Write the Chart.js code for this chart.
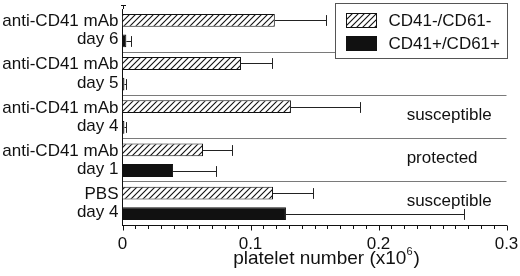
<!DOCTYPE html>
<html>
<head>
<meta charset="utf-8">
<script src="https://cdn.jsdelivr.net/npm/chart.js@4.4.1/dist/chart.umd.min.js"></script>
<style>
  html, body { margin: 0; padding: 0; background: #fff; }
  #wrap { width: 520px; height: 276px; }
</style>
</head>
<body>
<div id="wrap"><canvas id="plateletChart" width="520" height="276"></canvas></div>
<script>
const groupLabels = [
    ['anti-CD41 mAb', 'day 6'],
    ['anti-CD41 mAb', 'day 5'],
    ['anti-CD41 mAb', 'day 4'],
    ['anti-CD41 mAb', 'day 1'],
    ['PBS', 'day 4']
];
const seriesNames = ['CD41-/CD61-', 'CD41+/CD61+'];
const negValues = [0.119, 0.0926, 0.1316, 0.0629, 0.1176];
const negErrors = [0.040, 0.0244, 0.054, 0.0226, 0.0312];
const posValues = [0.003, 0.0015, 0.0015, 0.0395, 0.1277];
const posErrors = [0.0034, 0.0016, 0.001, 0.0335, 0.139];
const outcomeNotes = ['', '', 'susceptible', 'protected', 'susceptible'];
const xTickLabels = ['0', '0.1', '0.2', '0.3'];

const FONT = '"Liberation Sans", Arial, Helvetica, sans-serif';
const INK = '#111';

// diagonal hatch for the CD41-/CD61- bars
function makeHatch() {
    const c = document.createElement('canvas');
    c.width = 6; c.height = 6;
    const g = c.getContext('2d');
    g.fillStyle = '#fff';
    g.fillRect(0, 0, 6, 6);
    g.strokeStyle = INK;
    g.lineWidth = 1.1;
    g.beginPath();
    g.moveTo(-1, 7); g.lineTo(7, -1);
    g.moveTo(-1, 1); g.lineTo(1, -1);
    g.moveTo(5, 7); g.lineTo(7, 5);
    g.stroke();
    return g.createPattern(c, 'repeat');
}
const hatch = makeHatch();

const errorBars = {
    id: 'errorBars',
    afterDatasetsDraw(chart) {
        const g = chart.ctx;
        const xs = chart.scales.x;
        const errs = [negErrors, posErrors];
        g.save();
        g.strokeStyle = '#222';
        g.lineWidth = 1;
        chart.data.datasets.forEach((ds, i) => {
            chart.getDatasetMeta(i).data.forEach((bar, j) => {
                const x1 = Math.round(xs.getPixelForValue(ds.data[j] + errs[i][j])) + 0.5;
                const y = Math.round(bar.y) + 0.5;
                const half = bar.height / 2 - 1;
                g.beginPath();
                g.moveTo(bar.x, y); g.lineTo(x1, y);
                g.moveTo(x1, y - half); g.lineTo(x1, y + half);
                g.stroke();
            });
        });
        g.restore();
    }
};

const extras = {
    id: 'extras',
    afterDraw(chart) {
        const g = chart.ctx;
        const area = chart.chartArea;
        const xs = chart.scales.x;
        const ys = chart.scales.y;
        g.save();

        g.strokeStyle = INK;
        g.lineWidth = 1;
        const ax = Math.round(area.left) + 0.5;
        const ay = Math.round(area.bottom) + 0.5;

        // x tick marks, longer at the labelled ones
        g.beginPath();
        xs.ticks.forEach((t) => {
            const x = Math.round(xs.getPixelForValue(t.value)) + 0.5;
            const major = Math.abs(t.value * 10 - Math.round(t.value * 10)) < 1e-6;
            g.moveTo(x, ay);
            g.lineTo(x, ay + (major ? 5 : 3.5));
        });
        // little cap at the top of the y axis
        g.moveTo(ax, area.top); g.lineTo(ax, area.top - 4);
        g.moveTo(ax - 2.5, area.top - 3.5); g.lineTo(ax + 2.5, area.top - 3.5);
        g.stroke();

        // outcome notes
        g.fillStyle = INK;
        g.font = '17px ' + FONT;
        g.textAlign = 'left';
        g.textBaseline = 'middle';
        outcomeNotes.forEach((t, j) => {
            if (!t) return;
            g.fillText(t, xs.getPixelForValue(0.222), ys.getPixelForValue(j) - 2);
        });

        // legend box inside the plot
        const lw = 172, lh = 55;
        const lx = Math.round(area.right - lw) + 0.5, ly = 3.5;
        g.fillStyle = '#fff';
        g.fillRect(lx, ly, lw, lh);
        g.strokeStyle = '#555';
        g.strokeRect(lx, ly, lw, lh);
        const fills = [hatch, INK];
        seriesNames.forEach((name, i) => {
            const sy = ly + 10 + i * 23;
            g.fillStyle = fills[i];
            g.fillRect(lx + 11, sy, 30, 14);
            g.strokeStyle = INK;
            g.strokeRect(lx + 11, sy, 30, 14);
            g.fillStyle = INK;
            g.textAlign = 'left';
            g.fillText(name, lx + 53, sy + 7.5);
        });

        // axis title with a small superscript
        const base = 'platelet number (x10';
        g.font = '19px ' + FONT;
        const wBase = g.measureText(base).width;
        g.font = '11px ' + FONT;
        const wSup = g.measureText('6').width;
        g.font = '19px ' + FONT;
        const wEnd = g.measureText(')').width;
        const total = wBase + wSup + 1 + wEnd;
        let tx = (area.left + area.right) / 2 + 12 - total / 2;
        const ty = 259;
        g.fillText(base, tx, ty);
        tx += wBase;
        g.font = '11px ' + FONT;
        g.fillText('6', tx, ty - 7);
        tx += wSup + 1;
        g.font = '19px ' + FONT;
        g.fillText(')', tx, ty);

        g.restore();
    }
};

new Chart(document.getElementById('plateletChart'), {
    type: 'bar',
    data: {
        labels: groupLabels,
        datasets: [
            {
                label: seriesNames[0],
                data: negValues,
                backgroundColor: hatch,
                borderColor: INK,
                borderWidth: 1,
                categoryPercentage: 0.955,
                barPercentage: 0.62
            },
            {
                label: seriesNames[1],
                data: posValues,
                backgroundColor: INK,
                borderColor: INK,
                borderWidth: 1,
                categoryPercentage: 0.955,
                barPercentage: 0.62
            }
        ]
    },
    options: {
        indexAxis: 'y',
        responsive: false,
        animation: false,
        layout: { padding: { top: 9, right: 13.5, left: 0, bottom: 0 } },
        plugins: {
            legend: { display: false },
            tooltip: { enabled: false }
        },
        scales: {
            x: {
                type: 'linear',
                min: 0,
                max: 0.3,
                afterFit: (s) => {
                    s.height = 51;
                    s.paddingLeft = 0;
                    s.paddingRight = 0;
                },
                border: { display: true, color: INK, width: 1 },
                grid: { display: false, drawOnChartArea: false, drawTicks: false },
                ticks: {
                    stepSize: 0.01,
                    maxTicksLimit: 50,
                    autoSkip: false,
                    maxRotation: 0,
                    padding: 9,
                    color: INK,
                    font: { family: FONT, size: 17 },
                    callback: (v) => {
                        const k = Math.round(v * 10);
                        return Math.abs(v * 10 - k) < 1e-6 ? xTickLabels[k] : '';
                    }
                }
            },
            y: {
                afterFit: (s) => {
                    s.width = 122.5;
                    s.paddingTop = 0;
                    s.paddingBottom = 0;
                },
                border: { display: true, color: INK, width: 1 },
                grid: {
                    offset: true,
                    drawTicks: false,
                    drawOnChartArea: true,
                    color: (c) => (c.type === 'tick' && c.index > 0) ? '#7a7a7a' : 'rgba(0,0,0,0)'
                },
                ticks: {
                    padding: 4,
                    color: INK,
                    font: { family: FONT, size: 17, lineHeight: 1.08 }
                }
            }
        }
    },
    plugins: [errorBars, extras]
});
</script>
</body>
</html>
